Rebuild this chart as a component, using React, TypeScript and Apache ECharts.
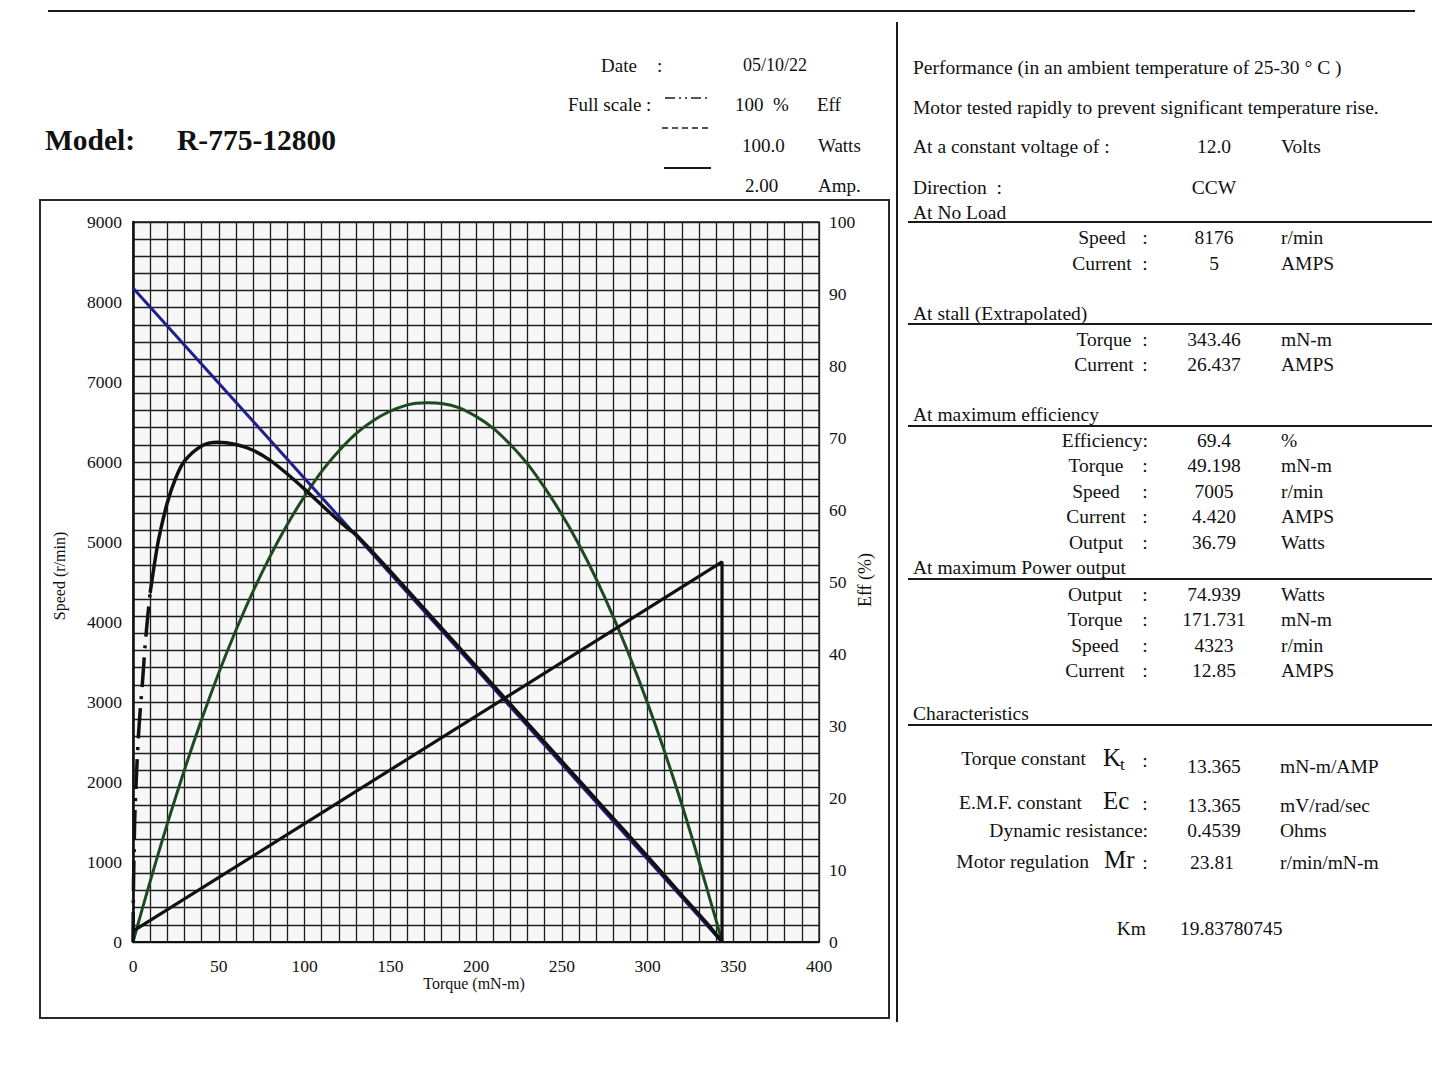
import React, { useEffect, useRef } from "react";
import * as echarts from "echarts";

// ---- Motor performance data (torque in mN-m) ----
const speedTorque = [0, 343.46];
const speedRpm = [8176, 0];

// Current line, plotted in % of full scale on the right axis
const currentTorque = [0, 343.46, 343.46];
const currentPct = [1.5, 52.8, 0];

// Output power (W, 100 W full scale)
const powerTorque = [0, 20, 40, 60, 80, 100, 120, 140, 160, 171.7, 180, 200, 220, 240, 260, 280, 300, 320, 340, 343.46];
const powerWatts = [0, 16.4, 30.9, 43.3, 53.6, 61.9, 68.2, 72.4, 74.6, 74.9, 74.8, 73.0, 69.1, 63.1, 55.2, 45.2, 33.2, 19.1, 3.0, 0];

// Efficiency (%), steep start drawn dash-dot
const effTorqueLow = [0, 0.3, 0.6, 1, 2, 3, 4, 5.5, 7, 8.5, 10];
const effPctLow = [0, 8, 12, 17, 23, 28, 31.5, 36, 41, 45, 48.5];
const effTorque = [10, 12.5, 15, 20, 25, 30, 40, 49.2, 60, 70, 80, 90, 100, 110, 120, 126.5, 130, 150, 175, 200, 225, 250, 275, 300, 320, 335, 343.46];
const effPct = [48.5, 52.5, 56, 61, 64.5, 66.8, 68.9, 69.4, 69.1, 68.3, 66.9, 65.0, 62.9, 60.7, 58.5, 57.2, 56.6, 51.5, 44.9, 38.3, 31.7, 25.1, 18.5, 11.9, 6.5, 2.5, 0];

// Summary table
const noLoadRows = [["Speed", "8176", "r/min"], ["Current", "5", "AMPS"]];
const stallRows = [["Torque", "343.46", "mN-m"], ["Current", "26.437", "AMPS"]];
const maxEffRows = [["Efficiency:", "69.4", "%"], ["Torque", "49.198", "mN-m"], ["Speed", "7005", "r/min"], ["Current", "4.420", "AMPS"], ["Output", "36.79", "Watts"]];
const maxPowerRows = [["Output", "74.939", "Watts"], ["Torque", "171.731", "mN-m"], ["Speed", "4323", "r/min"], ["Current", "12.85", "AMPS"]];

const FONT = '"Liberation Serif", "Times New Roman", serif';
const INK = "#111";
const FS = 19.5;

const zip = (xs: number[], ys: number[]) => xs.map((x, i) => [x, ys[i]]);

function txt(text: string, x: number, y: number, size = FS, align = "left", extra: any = {}) {
  return {
    type: "text",
    x,
    y,
    silent: true,
    ...extra,
    style: {
      text,
      fill: INK,
      font: `${extra.weight || "normal"} ${size}px ${FONT}`,
      textAlign: align,
      verticalAlign: "middle",
    },
  };
}

function hline(x1: number, x2: number, y: number, w = 1.6, dash?: number[]) {
  return {
    type: "line",
    silent: true,
    shape: { x1, y1: y, x2, y2: y },
    style: { stroke: "#1a1a1a", lineWidth: w, lineDash: dash },
  };
}

function buildGraphics() {
  const g: any[] = [];
  // page rules and chart frame
  g.push(hline(48, 1415, 11, 2));
  g.push({ type: "line", silent: true, shape: { x1: 897, y1: 22, x2: 897, y2: 1022 }, style: { stroke: "#1a1a1a", lineWidth: 2 } });
  g.push({ type: "rect", silent: true, shape: { x: 40, y: 200, width: 849, height: 818 }, style: { fill: "none", stroke: "#2a2a2a", lineWidth: 2 } });

  // title block
  g.push(txt("Model:", 45, 140, 29.5, "left", { weight: "bold" }));
  g.push(txt("R-775-12800", 177, 140, 29.5, "left", { weight: "bold" }));
  g.push(txt("Date", 601, 65, 19));
  g.push(txt(":", 657, 65, 19));
  g.push(txt("05/10/22", 743, 65, 18));
  g.push(txt("Full scale :", 568, 104, 19));
  g.push(hline(665, 711, 98, 1.6, [10, 4, 2, 4, 2, 4]));
  g.push(hline(662, 711, 128, 1.6, [6, 4]));
  g.push(hline(664, 711, 168, 1.8));
  g.push(txt("100  %", 735, 104, 19));
  g.push(txt("Eff", 817, 104, 19));
  g.push(txt("100.0", 742, 145, 19));
  g.push(txt("Watts", 818, 145, 19));
  g.push(txt("2.00", 745, 185, 19));
  g.push(txt("Amp.", 818, 185, 19));

  // axis titles
  g.push(txt("Speed (r/min)", 59, 576, 16, "center", { rotation: Math.PI / 2 }));
  g.push(txt("Eff (%)", 865, 580, 18, "center", { rotation: Math.PI / 2 }));
  g.push(txt("Torque (mN-m)", 474, 983, 16, "center"));

  // right-hand summary
  const L = 913;
  const labelC = 1100;
  const colonX = 1145;
  const valC = 1214;
  const unitX = 1281;
  g.push(txt("Performance (in an ambient temperature of 25-30 ° C )", L, 67));
  g.push(txt("Motor tested rapidly to prevent significant temperature rise.", L, 107));
  g.push(txt("At a constant voltage of :", L, 146));
  g.push(txt("12.0", valC, 146, FS, "center"));
  g.push(txt("Volts", unitX, 146));
  g.push(txt("Direction  :", L, 187));
  g.push(txt("CCW", valC, 187, FS, "center"));

  const section = (title: string, ty: number, lineY: number, rows: string[][], y0: number, dy: number, lc: number) => {
    g.push(txt(title, L, ty));
    g.push(hline(908, 1432, lineY, 1.8));
    rows.forEach((r, i) => {
      const y = y0 + i * dy;
      if (!r[0].endsWith(":")) {
        g.push(txt(r[0], lc, y, FS, "center"));
        g.push(txt(":", colonX, y, FS, "center"));
      } else {
        g.push(txt(r[0], 1148, y, FS, "right"));
      }
      g.push(txt(r[1], valC, y, FS, "center"));
      g.push(txt(r[2], unitX, y));
    });
  };
  section("At No Load", 212, 222, noLoadRows, 237, 26, labelC + 2);
  section("At stall (Extrapolated)", 313, 324, stallRows, 339, 25.5, labelC + 4);
  section("At maximum efficiency", 414, 426, maxEffRows, 440, 25.5, labelC - 4);
  section("At maximum Power output", 567, 579, maxPowerRows, 594, 25.5, labelC - 5);

  g.push(txt("Characteristics", L, 713));
  g.push(hline(908, 1432, 725, 1.8));
  g.push(txt("Torque constant", 1086, 758, FS, "right"));
  g.push(txt("K", 1103, 757, 25));
  g.push(txt("t", 1120, 764, 17));
  g.push(txt(":", colonX, 760, FS, "center"));
  g.push(txt("13.365", valC, 766, FS, "center"));
  g.push(txt("mN-m/AMP", 1280, 766));
  g.push(txt("E.M.F. constant", 1082, 802, FS, "right"));
  g.push(txt("Ec", 1103, 800, 25));
  g.push(txt(":", colonX, 803, FS, "center"));
  g.push(txt("13.365", valC, 805, FS, "center"));
  g.push(txt("mV/rad/sec", 1280, 805));
  g.push(txt("Dynamic resistance:", 1148, 830, FS, "right"));
  g.push(txt("0.4539", valC, 830, FS, "center"));
  g.push(txt("Ohms", 1280, 830));
  g.push(txt("Motor regulation", 1089, 861, FS, "right"));
  g.push(txt("Mr", 1104, 859, 25));
  g.push(txt(":", colonX, 862, FS, "center"));
  g.push(txt("23.81", 1212, 862, FS, "center"));
  g.push(txt("r/min/mN-m", 1280, 862));
  g.push(txt("Km", 1146, 928, FS, "right"));
  g.push(txt("19.83780745", 1180, 928));
  return g;
}

export default function App() {
  const ref = useRef<HTMLDivElement>(null);
  useEffect(() => {
    if (!ref.current) return;
    const chart = echarts.init(ref.current, undefined, { renderer: "svg" });
    const gridLine = { show: true, lineStyle: { color: "#1c1c1c", width: 1.3 } };
    const label = { fontFamily: FONT, fontSize: 17.5, color: INK, formatter: (v: number) => String(v) };
    chart.setOption({
      animation: false,
      backgroundColor: "#ffffff",
      grid: { left: 133, top: 222, width: 686, height: 720, show: true, backgroundColor: "#f7f7f7", borderColor: "#1c1c1c", borderWidth: 1.3 },
      xAxis: [
        {
          type: "value", min: 0, max: 400, interval: 50, position: "bottom",
          axisLine: { show: true, onZero: false, lineStyle: { color: INK, width: 2 } },
          axisTick: { show: false }, splitLine: { show: false },
          axisLabel: { ...label, margin: 15 },
        },
        {
          type: "value", min: 0, max: 400, interval: 10, position: "bottom",
          axisLine: { show: false }, axisTick: { show: false }, axisLabel: { show: false },
          splitLine: gridLine,
        },
      ],
      yAxis: [
        {
          type: "value", min: 0, max: 9000, interval: 1000, position: "left",
          axisLine: { show: true, onZero: false, lineStyle: { color: INK, width: 2.5 } },
          axisTick: { show: false }, splitLine: { show: false },
          axisLabel: { ...label, margin: 11 },
        },
        {
          type: "value", min: 0, max: 100, interval: 10, position: "right",
          axisLine: { show: false }, axisTick: { show: false }, splitLine: { show: false },
          axisLabel: { ...label, margin: 10 },
        },
        {
          type: "value", min: 0, max: 42, interval: 1, position: "left",
          axisLine: { show: false }, axisTick: { show: false }, axisLabel: { show: false },
          splitLine: gridLine,
        },
      ],
      series: [
        {
          name: "Output", type: "line", xAxisIndex: 0, yAxisIndex: 1, smooth: 0.4, symbol: "none",
          data: zip(powerTorque, powerWatts), lineStyle: { color: "#1d4a1f", width: 3 }, z: 3,
        },
        {
          name: "Speed", type: "line", xAxisIndex: 0, yAxisIndex: 0, symbol: "none",
          data: zip(speedTorque, speedRpm), lineStyle: { color: "#1f1f8e", width: 3 }, z: 4,
        },
        {
          name: "Current", type: "line", xAxisIndex: 0, yAxisIndex: 1, symbol: "none",
          data: zip(currentTorque, currentPct), lineStyle: { color: INK, width: 3.2 }, z: 5,
        },
        {
          name: "Eff low", type: "line", xAxisIndex: 0, yAxisIndex: 1, symbol: "none", smooth: 0.3,
          data: zip(effTorqueLow, effPctLow), lineStyle: { color: INK, width: 3.5, type: [30, 9, 3, 9] }, z: 6,
        },
        {
          name: "Efficiency", type: "line", xAxisIndex: 0, yAxisIndex: 1, symbol: "none", smooth: 0.3,
          data: zip(effTorque, effPct), lineStyle: { color: INK, width: 3.5 }, z: 6,
        },
      ],
      graphic: buildGraphics(),
    });
    return () => chart.dispose();
  }, []);
  return <div ref={ref} style={{ position: "absolute", left: 0, top: 0, width: 1448, height: 1086 }} />;
}
